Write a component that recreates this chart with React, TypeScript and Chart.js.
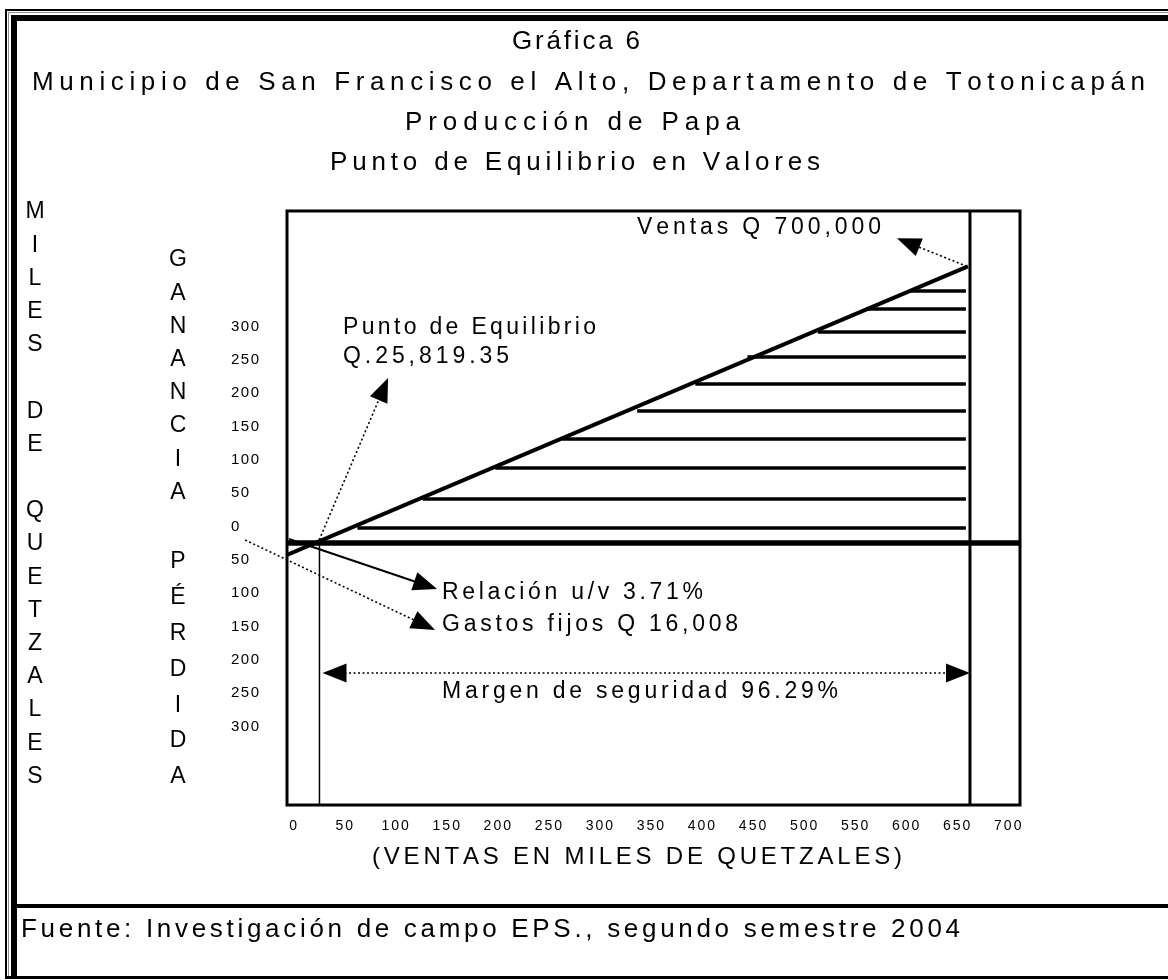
import React, { useEffect, useRef } from "react";
import { Chart, registerables } from "chart.js";

Chart.register(...registerables);

// ---------- data ----------
const xTickValues = [0, 50, 100, 150, 200, 250, 300, 350, 400, 450, 500, 550, 600, 650, 700];
const yTickValues = [300, 250, 200, 150, 100, 50, 0, -50, -100, -150, -200, -250, -300];

// Sales / profit line (miles de quetzales)
const salesLineX = [-6, 661];
const salesLineY = [-18, 415];

// Horizontal hatching of the profit zone
const hatchLevels = [378, 351, 316.5, 279, 238.5, 198, 156, 112.5, 66, 22.5];
const hatchStarts = [604, 561, 514, 445, 394, 337, 263.5, 198, 127, 63];
const hatchEnd = 659;

const breakEvenX = 25.8; // Q 25,819.35
const salesX = 663; // vertical line of total sales (as drawn)
const marginY = -195; // level of the safety-margin arrow

const xMin = -6;
const xMax = 712;
const yMin = -393;
const yMax = 498;

const titleLines = [
  "Gráfica 6",
  "Municipio de San Francisco el Alto, Departamento de Totonicapán",
  "Producción de Papa",
  "Punto de Equilibrio en Valores",
];
const leftAxisLetters = ["M", "I", "L", "E", "S", "", "D", "E", "", "Q", "U", "E", "T", "Z", "A", "L", "E", "S"];
const gainLetters = ["G", "A", "N", "A", "N", "C", "I", "A"];
const lossLetters = ["P", "É", "R", "D", "I", "D", "A"];

// ---------- layout (pixels / styles, not data) ----------
const FONT = '"Liberation Sans", Arial, Helvetica, sans-serif';
const titleLayout = [
  { x0: 512, x1: 640, y: 42, size: 26 },
  { x0: 32, x1: 1145, y: 83, size: 26 },
  { x0: 405, x1: 740, y: 123, size: 26 },
  { x0: 330, x1: 820, y: 163, size: 26 },
];

type Ctx = CanvasRenderingContext2D;

function spacedFit(ctx: Ctx, text: string, x0: number, x1: number, y: number, size: number) {
  ctx.font = `${size}px ${FONT}`;
  ctx.textBaseline = "middle";
  ctx.textAlign = "left";
  const chars = Array.from(text);
  const widths = chars.map((c) => ctx.measureText(c).width);
  const total = widths.reduce((a, b) => a + b, 0);
  const gap = chars.length > 1 ? (x1 - x0 - total) / (chars.length - 1) : 0;
  let x = x0;
  chars.forEach((c, i) => {
    ctx.fillText(c, x, y);
    x += widths[i] + gap;
  });
}

function spacedAt(ctx: Ctx, text: string, x: number, y: number, size: number, gap: number, align: "left" | "center") {
  ctx.font = `${size}px ${FONT}`;
  ctx.textBaseline = "middle";
  ctx.textAlign = "left";
  const chars = Array.from(text);
  const widths = chars.map((c) => ctx.measureText(c).width);
  const total = widths.reduce((a, b) => a + b, 0) + gap * (chars.length - 1);
  let cx = align === "center" ? x - total / 2 : x;
  chars.forEach((c, i) => {
    ctx.fillText(c, cx, y);
    cx += widths[i] + gap;
  });
}

function arrowHead(ctx: Ctx, tx: number, ty: number, ux: number, uy: number) {
  const L = 24;
  const W = 9.5;
  const bx = tx - ux * L;
  const by = ty - uy * L;
  const nx = -uy;
  const ny = ux;
  ctx.beginPath();
  ctx.moveTo(tx, ty);
  ctx.lineTo(bx + nx * W, by + ny * W);
  ctx.lineTo(bx - nx * W, by - ny * W);
  ctx.closePath();
  ctx.fill();
}

function arrow(ctx: Ctx, x0: number, y0: number, x1: number, y1: number, dashed: boolean, width: number, both = false) {
  const dx = x1 - x0;
  const dy = y1 - y0;
  const len = Math.hypot(dx, dy);
  const ux = dx / len;
  const uy = dy / len;
  const L = 22;
  ctx.save();
  ctx.strokeStyle = "#000";
  ctx.fillStyle = "#000";
  ctx.lineWidth = width;
  ctx.setLineDash(dashed ? [2, 2.5] : []);
  ctx.beginPath();
  ctx.moveTo(both ? x0 + ux * L : x0, both ? y0 + uy * L : y0);
  ctx.lineTo(x1 - ux * L, y1 - uy * L);
  ctx.stroke();
  ctx.setLineDash([]);
  arrowHead(ctx, x1, y1, ux, uy);
  if (both) arrowHead(ctx, x0, y0, -ux, -uy);
  ctx.restore();
}

const decorPlugin = {
  id: "decor",
  beforeDraw(chart: any) {
    const ctx: Ctx = chart.ctx;
    ctx.save();
    ctx.fillStyle = "#fff";
    ctx.fillRect(0, 0, chart.width, chart.height);
    ctx.fillStyle = "#000";
    ctx.fillRect(5, 9, 1163, 2);
    ctx.fillRect(5, 9, 2, 970);
    ctx.fillStyle = "#8c8c8c";
    ctx.fillRect(8, 12, 1160, 1);
    ctx.fillRect(8, 12, 1, 966);
    ctx.fillStyle = "#000";
    ctx.fillRect(11, 15, 1157, 6);
    ctx.fillRect(11, 15, 6, 964);
    ctx.fillRect(5, 976, 1163, 3);
    ctx.fillRect(17, 904, 1151, 4);
    ctx.restore();
  },
  afterDraw(chart: any) {
    const ctx: Ctx = chart.ctx;
    const xs = chart.scales.x;
    const ys = chart.scales.y;
    const px = (v: number) => xs.getPixelForValue(v);
    const py = (v: number) => ys.getPixelForValue(v);
    const a = chart.chartArea;
    ctx.save();
    // chart box
    ctx.strokeStyle = "#000";
    ctx.lineWidth = 3;
    ctx.strokeRect(a.left, a.top, a.right - a.left, a.bottom - a.top);

    ctx.fillStyle = "#000";
    // titles
    titleLines.forEach((t, i) => {
      const l = titleLayout[i];
      spacedFit(ctx, t, l.x0, l.x1, l.y, l.size);
    });

    // tick labels
    xTickValues.forEach((v) => spacedAt(ctx, String(v), px(v), 826, 14, 2, "center"));
    yTickValues.forEach((v) => spacedAt(ctx, String(Math.abs(v)), 231, py(v) - 16.5, 15, 1.5, "left"));

    // vertical axis words
    leftAxisLetters.forEach((c, i) => c && spacedAt(ctx, c, 35, 212 + i * 33.2, 23, 0, "center"));
    gainLetters.forEach((c, i) => spacedAt(ctx, c, 178, 260 + i * 33.2, 23, 0, "center"));
    lossLetters.forEach((c, i) => spacedAt(ctx, c, 178, 562 + i * 35.8, 23, 0, "center"));

    // axis title and source
    spacedFit(ctx, "(VENTAS EN MILES DE QUETZALES)", 372, 902, 857, 24);
    spacedFit(ctx, "Fuente: Investigación de campo EPS., segundo semestre 2004", 21, 960, 930, 26);

    // annotations
    spacedFit(ctx, "Ventas Q 700,000", 637, 881, 228, 23);
    spacedFit(ctx, "Punto de Equilibrio", 343, 596, 328, 23);
    spacedFit(ctx, "Q.25,819.35", 343, 509, 357, 23);
    spacedFit(ctx, "Relación u/v 3.71%", 442, 703, 593, 23);
    spacedFit(ctx, "Gastos fijos Q 16,008", 442, 738, 625, 23);
    spacedFit(ctx, "Margen de seguridad 96.29%", 442, 838, 692, 23);

    // arrows
    arrow(ctx, px(salesLineX[1] - 1), py(salesLineY[1]), px(591.5), py(457), true, 1.6);
    arrow(ctx, px(breakEvenX - 2), py(-1.5), px(93), py(247.5), true, 1.6);
    arrow(ctx, px(-4), py(6), px(141), py(-69), false, 2);
    arrow(ctx, px(-47), py(4.5), px(139), py(-130.5), true, 1.6);
    arrow(ctx, px(breakEvenX + 3), py(marginY), px(salesX), py(marginY), true, 1.6, true);
    ctx.restore();
  },
};

export default function App() {
  const ref = useRef<HTMLCanvasElement | null>(null);
  useEffect(() => {
    if (!ref.current) return;
    const line = (data: { x: number; y: number }[], w: number) => ({
      data,
      borderColor: "#000",
      backgroundColor: "#000",
      borderWidth: w,
      pointRadius: 0,
      fill: false,
      tension: 0,
      borderCapStyle: "butt" as const,
    });
    const datasets: any[] = [
      line([{ x: xMin, y: 0 }, { x: xMax, y: 0 }], 5.5),
      line(salesLineX.map((x, i) => ({ x, y: salesLineY[i] })), 4),
      ...hatchLevels.map((y, i) => line([{ x: hatchStarts[i], y }, { x: hatchEnd, y }], 3.5)),
      line([{ x: breakEvenX, y: 0 }, { x: breakEvenX, y: yMin }], 1.5),
      line([{ x: salesX, y: yMax }, { x: salesX, y: yMin }], 3),
    ];
    const chart = new Chart(ref.current, {
      type: "line",
      data: { datasets },
      options: {
        responsive: false,
        animation: false,
        devicePixelRatio: 1,
        layout: { padding: { left: 287, top: 211, right: 148, bottom: 175 } },
        scales: {
          x: { type: "linear", min: xMin, max: xMax, display: false },
          y: { type: "linear", min: yMin, max: yMax, display: false },
        },
        plugins: { legend: { display: false }, tooltip: { enabled: false } },
        events: [],
      },
      plugins: [decorPlugin],
    });
    return () => chart.destroy();
  }, []);
  return (
    <div style={{ position: "absolute", left: 0, top: 0, width: 1168, height: 980, background: "#fff" }}>
      <canvas ref={ref} width={1168} height={980} style={{ display: "block" }} />
    </div>
  );
}
